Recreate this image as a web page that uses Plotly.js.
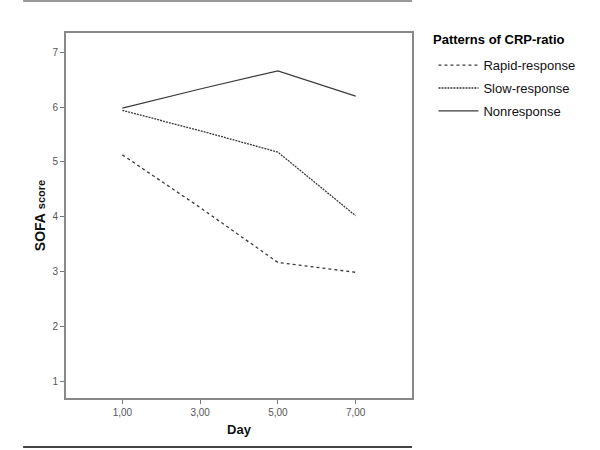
<!DOCTYPE html>
<html>
<head>
<meta charset="utf-8">
<script src="https://cdn.plot.ly/plotly-3.0.1.min.js"></script>
<style>
  body { margin: 0; background: #fff; }
  #chart { width: 600px; height: 450px; }
</style>
</head>
<body>
<div id="chart"></div>
<script>
// days measured and tick labels (comma decimals, as in the source)
let days = [1, 3, 5, 7]
let dayLabels = ["1,00", "3,00", "5,00", "7,00"]

// mean SOFA score per CRP-ratio pattern
let rapidResponse = [5.13, 4.17, 3.17, 2.99]
let slowResponse = [5.94, 5.57, 5.18, 4.02]
let nonResponse = [5.98, 6.33, 6.66, 6.20]

let yTicks = [1, 2, 3, 4, 5, 6, 7]

let lineColor = "#3a3a3a"
let fontFamily = "Liberation Sans, Arial, sans-serif"

let data = [
	{
		x: days, y: rapidResponse, name: "Rapid-response", legendgroup: "a",
		type: "scatter", mode: "lines",
		line: {color: lineColor, width: 1.3, dash: "3px,3px"}
	},
	{
		x: days, y: slowResponse, name: "Slow-response", legendgroup: "b",
		type: "scatter", mode: "lines",
		line: {color: lineColor, width: 1.3, dash: "2px,1px"}
	},
	{
		x: days, y: nonResponse, name: "Nonresponse", legendgroup: "c",
		type: "scatter", mode: "lines",
		line: {color: lineColor, width: 1.2}
	}
]

let axisFont = {family: fontFamily, size: 10, color: "#555"}

let layout = {
	width: 600,
	height: 450,
	paper_bgcolor: "#fff",
	plot_bgcolor: "#fff",
	margin: {l: 66, r: 188, t: 33, b: 52},
	showlegend: true,
	legend: {
		font: {family: fontFamily, size: 13, color: "#111"},
		x: 1.062, xanchor: "left",
		y: 0.953, yanchor: "top",
		bgcolor: "rgba(0,0,0,0)",
		itemwidth: 40,
		tracegroupgap: 3
	},
	annotations: [
		{
			text: "<b>Patterns of CRP-ratio</b>",
			xref: "paper", yref: "paper",
			x: 1.056, xanchor: "left",
			y: 0.983, yanchor: "middle",
			showarrow: false,
			font: {family: fontFamily, size: 13, color: "#000"}
		}
	],
	xaxis: {
		range: [-0.45, 8.45],
		tickvals: days,
		ticktext: dayLabels,
		tickfont: axisFont,
		ticks: "outside", ticklen: 4, tickcolor: "#777", tickwidth: 1,
		showgrid: false, zeroline: false,
		showline: true, linecolor: "#888", linewidth: 2, mirror: true,
		title: {text: "<b>Day</b>", font: {family: fontFamily, size: 13, color: "#111"}, standoff: 8}
	},
	yaxis: {
		range: [0.70, 7.35],
		tickvals: yTicks,
		tickfont: axisFont,
		ticks: "outside", ticklen: 4, tickcolor: "#777", tickwidth: 1,
		showgrid: false, zeroline: false,
		showline: true, linecolor: "#888", linewidth: 2, mirror: true,
		title: {text: "<b>SOFA</b> <b><span style='font-size:11px'>score</span></b>", font: {family: fontFamily, size: 14, color: "#111"}, standoff: 4}
	},
	shapes: [
		// decorative rules above and below the figure
		{type: "line", xref: "paper", yref: "paper", x0: -0.124, x1: 1.0, y0: 1.088, y1: 1.088, line: {color: "#999", width: 2}},
		{type: "line", xref: "paper", yref: "paper", x0: -0.124, x1: 1.0, y0: -0.134, y1: -0.134, line: {color: "#444", width: 2}}
	]
}

Plotly.newPlot("chart", data, layout, {displayModeBar: false, staticPlot: true})
</script>
</body>
</html>
